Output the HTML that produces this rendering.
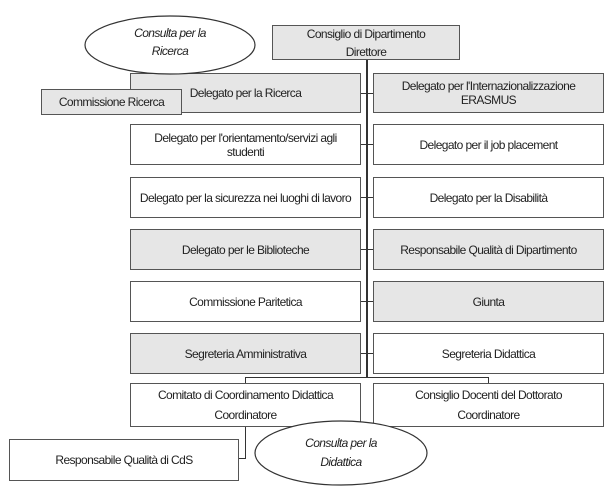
<!DOCTYPE html>
<html><head><meta charset="utf-8"><style>
body{margin:0;width:612px;height:497px;background:#fff;position:relative;overflow:hidden;font-family:"Liberation Sans Narrow","Liberation Sans",sans-serif;font-size:12px;letter-spacing:-0.6px;color:#222}
.b{position:absolute;border:1px solid #555;box-sizing:border-box;display:flex;align-items:center;justify-content:center;text-align:center;line-height:14px;white-space:nowrap}
.g{background:#e6e6e6}
.l{position:absolute;background:#333}
</style></head><body>
<div class="b g" style="left:272px;top:25px;width:188px;height:35px;flex-direction:column;line-height:18px">Consiglio di Dipartimento<br>Direttore</div>
<div class="l" style="left:366px;top:60px;width:2px;height:318px"></div>
<div class="l" style="left:245px;top:377px;width:244px;height:1px"></div>
<div class="l" style="left:245px;top:377px;width:1px;height:6px"></div>
<div class="l" style="left:488px;top:377px;width:1px;height:6px"></div>
<div class="l" style="left:361px;top:93px;width:12px;height:1px"></div>
<div class="l" style="left:361px;top:144px;width:12px;height:1px"></div>
<div class="l" style="left:361px;top:197px;width:12px;height:1px"></div>
<div class="l" style="left:361px;top:249px;width:12px;height:1px"></div>
<div class="l" style="left:361px;top:301px;width:12px;height:1px"></div>
<div class="l" style="left:361px;top:353px;width:12px;height:1px"></div>
<div class="b g" style="left:130px;top:73px;width:231px;height:40px">Delegato per la Ricerca</div>
<div class="b g" style="left:373px;top:73px;width:231px;height:40px">Delegato per l'Internazionalizzazione<br>ERASMUS</div>
<svg width="612" height="497" style="position:absolute;left:0;top:0">
<ellipse cx="170" cy="45" rx="85" ry="29" fill="#fff" stroke="#333" stroke-width="1.2"/>
</svg>
<div style="position:absolute;left:110px;top:24px;width:120px;font-style:italic;line-height:18px;text-align:center">Consulta per la<br>Ricerca</div>
<div class="b g" style="left:41px;top:89px;width:141px;height:26px">Commissione Ricerca</div>
<div class="b" style="left:130px;top:124px;width:231px;height:41px;white-space:normal">Delegato per l'orientamento/servizi agli<br>studenti</div>
<div class="b" style="left:373px;top:124px;width:231px;height:41px">Delegato per il job placement</div>
<div class="b" style="left:130px;top:177px;width:231px;height:41px">Delegato per la sicurezza nei luoghi di lavoro</div>
<div class="b" style="left:373px;top:177px;width:231px;height:41px">Delegato per la Disabilità</div>
<div class="b g" style="left:130px;top:229px;width:231px;height:41px">Delegato per le Biblioteche</div>
<div class="b g" style="left:373px;top:229px;width:231px;height:41px">Responsabile Qualità di Dipartimento</div>
<div class="b" style="left:130px;top:281px;width:231px;height:41px">Commissione Paritetica</div>
<div class="b g" style="left:373px;top:281px;width:231px;height:41px">Giunta</div>
<div class="b g" style="left:130px;top:333px;width:231px;height:41px">Segreteria Amministrativa</div>
<div class="b" style="left:373px;top:333px;width:231px;height:41px">Segreteria Didattica</div>
<div class="b" style="left:130px;top:383px;width:231px;height:44px;line-height:20px">Comitato di Coordinamento Didattica<br>Coordinatore</div>
<div class="b" style="left:373px;top:383px;width:231px;height:44px;line-height:20px">Consiglio Docenti del Dottorato<br>Coordinatore</div>
<div class="l" style="left:245px;top:427px;width:1px;height:32px"></div>
<div class="l" style="left:238px;top:458px;width:8px;height:1px"></div>
<div class="b" style="left:9px;top:439px;width:230px;height:42px">Responsabile Qualità di CdS</div>
<svg width="612" height="497" style="position:absolute;left:0;top:0">
<ellipse cx="341" cy="453" rx="86" ry="32" fill="#fff" stroke="#333" stroke-width="1.2"/>
</svg>
<div style="position:absolute;left:281px;top:434px;width:120px;font-style:italic;line-height:19px;text-align:center">Consulta per la<br>Didattica</div>
</body></html>
